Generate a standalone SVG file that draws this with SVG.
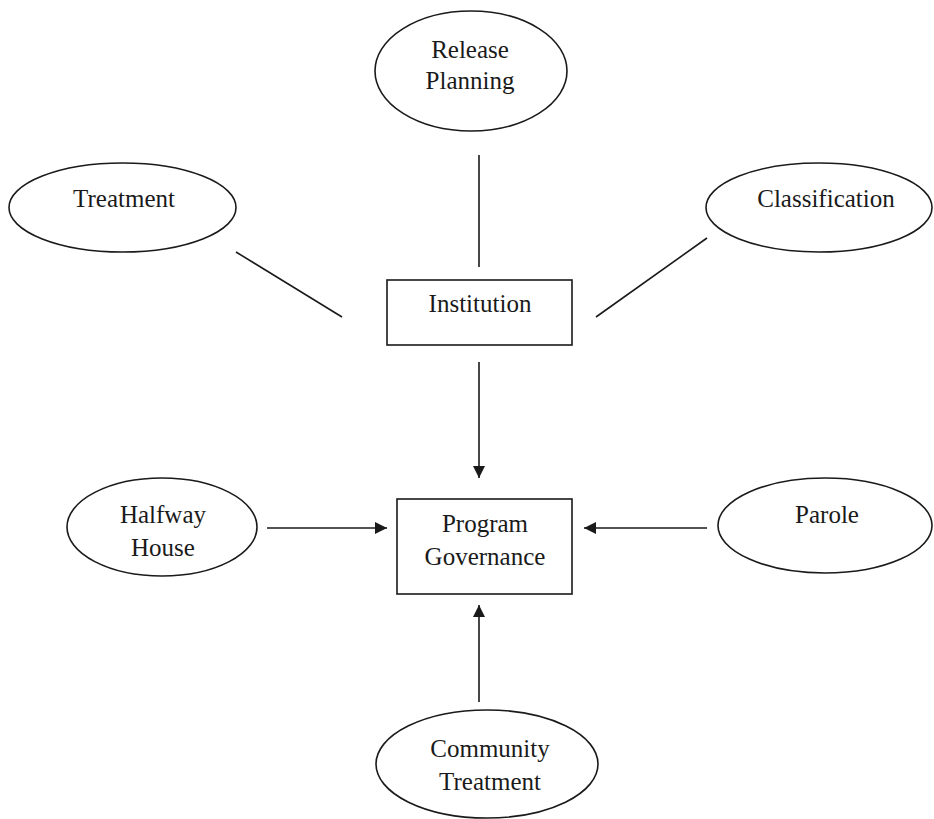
<svg xmlns="http://www.w3.org/2000/svg" width="934" height="819" viewBox="0 0 934 819">
<style>
.shape{fill:#fff;stroke:#1a1a1a;stroke-width:1.6}
.t{font-family:"Liberation Serif","Times New Roman",serif;font-size:25px;fill:#1a1a1a;text-anchor:middle}
.ln{stroke:#1a1a1a;stroke-width:1.6;fill:none}
</style>
<defs>
<marker id="ah" markerWidth="12" markerHeight="12" refX="12" refY="6" orient="auto" markerUnits="userSpaceOnUse">
<path d="M0,0 L12,6 L0,12 Z" fill="#1a1a1a"/>
</marker>
</defs>
<rect width="934" height="819" fill="#fff"/>
<g id="connectors">
<line class="ln" x1="479" y1="155" x2="479" y2="267"/>
<line class="ln" x1="236" y1="252" x2="342" y2="317"/>
<line class="ln" x1="707" y1="238" x2="596" y2="317"/>
<line class="ln" x1="479" y1="362" x2="479" y2="478" marker-end="url(#ah)"/>
<line class="ln" x1="267" y1="528" x2="387" y2="528" marker-end="url(#ah)"/>
<line class="ln" x1="707" y1="528" x2="584" y2="528" marker-end="url(#ah)"/>
<line class="ln" x1="479" y1="702" x2="479" y2="605" marker-end="url(#ah)"/>
</g>
<g id="release-planning">
<ellipse class="shape" cx="471" cy="71" rx="96" ry="60"/>
<text class="t" x="470" y="58">Release</text>
<text class="t" x="470" y="89">Planning</text>
</g>
<g id="treatment">
<ellipse class="shape" cx="122.5" cy="207.5" rx="113.5" ry="44.5"/>
<text class="t" x="124" y="207">Treatment</text>
</g>
<g id="classification">
<ellipse class="shape" cx="819" cy="207.5" rx="113" ry="44.5"/>
<text class="t" x="826" y="207">Classification</text>
</g>
<g id="institution">
<rect class="shape" x="387" y="280" width="185" height="65"/>
<text class="t" x="480" y="312">Institution</text>
</g>
<g id="program-governance">
<rect class="shape" x="397" y="499" width="175" height="95"/>
<text class="t" x="485" y="532">Program</text>
<text class="t" x="485" y="565">Governance</text>
</g>
<g id="halfway-house">
<ellipse class="shape" cx="162" cy="527" rx="95" ry="49"/>
<text class="t" x="163" y="523">Halfway</text>
<text class="t" x="163" y="556">House</text>
</g>
<g id="parole">
<ellipse class="shape" cx="825" cy="525.5" rx="107" ry="47.5"/>
<text class="t" x="827" y="523">Parole</text>
</g>
<g id="community-treatment">
<ellipse class="shape" cx="487" cy="764" rx="111" ry="54"/>
<text class="t" x="490" y="757">Community</text>
<text class="t" x="490" y="790">Treatment</text>
</g>
</svg>
